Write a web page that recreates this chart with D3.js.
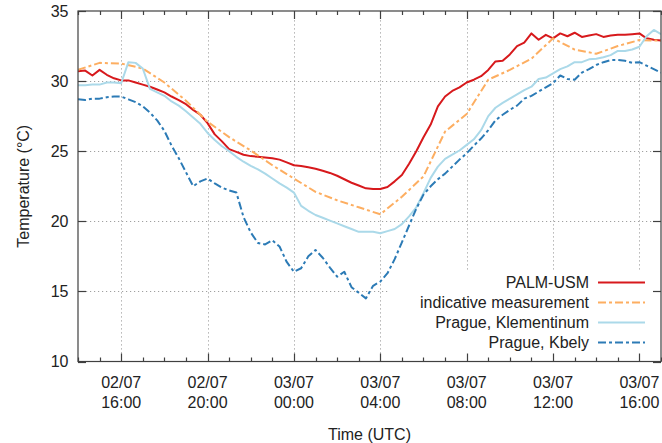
<!DOCTYPE html>
<html>
<head>
<meta charset="utf-8">
<script src="https://cdn.jsdelivr.net/npm/d3@7"></script>
<style>
  html, body { margin: 0; padding: 0; background: #fff; }
  svg { display: block; font-family: "Liberation Sans", Arial, sans-serif; }
</style>
</head>
<body>
<svg id="chart" width="662" height="443"></svg>
<script>
// ---------- data ----------
// Series start at 02/07 14:00 UTC.
const startTime = "2015-07-02T14:00:00Z";
const endTime = "2015-07-03T17:00:00Z";
const stepMinutes = 20;          // sampling step of the three dense series
const indicativeStepMinutes = 60; // sampling step of the indicative measurement

const palmUsm = [
  30.7, 30.75, 30.4, 30.8, 30.45, 30.2, 30.05, 30.05, 29.9, 29.75,
  29.6, 29.4, 29.2, 28.9, 28.65, 28.35, 27.95, 27.6, 27.0, 26.2,
  25.7, 25.15, 24.95, 24.75, 24.65, 24.6, 24.55, 24.5, 24.4, 24.2,
  24.0, 23.95, 23.85, 23.75, 23.6, 23.45, 23.25, 23.0, 22.75, 22.55,
  22.35, 22.3, 22.3, 22.45, 22.85, 23.3, 24.1, 25.0, 26.0, 26.9,
  28.2, 28.9, 29.3, 29.55, 29.9, 30.1, 30.35, 30.8, 31.4, 31.45,
  31.9, 32.5, 32.75, 33.4, 32.95, 33.3, 33.05, 33.4, 33.2, 33.45,
  33.15, 33.25, 33.35, 33.15, 33.25, 33.3, 33.3, 33.35, 33.4, 33.05,
  32.95, 32.9
];

const indicative = [
  30.8, 31.3, 31.25, 30.9, 29.9, 28.6, 27.1, 26.0, 25.05, 24.0,
  23.05, 22.1, 21.5, 21.0, 20.5, 21.75, 23.2, 26.4, 27.65, 30.1,
  30.8, 31.6, 33.05, 32.25, 31.95, 32.5, 32.93, 32.88
];

const klementinum = [
  29.7, 29.7, 29.75, 29.75, 29.9, 29.9, 29.85, 31.35, 31.3, 30.9,
  29.45, 29.2, 28.95, 28.55, 28.25, 27.85, 27.4, 26.95, 26.3, 25.8,
  25.35, 25.0, 24.6, 24.25, 23.95, 23.7, 23.4, 23.05, 22.7, 22.4,
  22.05, 21.1, 20.75, 20.45, 20.25, 20.05, 19.85, 19.65, 19.45, 19.25,
  19.25, 19.25, 19.15, 19.3, 19.45, 19.8, 20.35, 21.0, 22.0, 23.1,
  23.9, 24.45, 24.75, 25.05, 25.45, 25.85, 26.5, 27.5, 28.1, 28.45,
  28.75, 29.05, 29.35, 29.6, 30.15, 30.25, 30.55, 30.85, 31.05, 31.35,
  31.35, 31.55, 31.6, 31.7, 31.85, 32.15, 32.15, 32.25, 32.45, 33.2,
  33.65, 33.35
];

const kbely = [
  28.7, 28.65, 28.75, 28.75, 28.85, 28.9, 28.9, 28.7, 28.5, 28.2,
  27.75, 27.2, 26.45, 25.4, 24.5, 23.5, 22.5, 22.85, 23.05, 22.7,
  22.4, 22.2, 22.05, 20.3, 19.2, 18.45, 18.35, 18.65, 18.2, 17.1,
  16.4, 16.65, 17.5, 17.95, 17.4, 16.7, 16.05, 16.4, 15.3, 14.9,
  14.5, 15.4, 15.7, 16.3, 17.3, 18.5, 19.7, 20.9, 21.9, 22.5,
  23.0, 23.4, 23.9, 24.4, 24.85, 25.4, 25.9, 26.5, 27.2, 27.6,
  27.95, 28.25, 28.75, 28.95, 29.25, 29.55, 29.85, 30.4, 30.15, 30.1,
  30.6, 30.85, 31.15, 31.35, 31.5, 31.5, 31.45, 31.3, 31.35, 31.1,
  30.85, 30.6
];

const seriesNames = ["PALM-USM", "indicative measurement", "Prague, Klementinum", "Prague, Kbely"];
const yTicks = [10, 15, 20, 25, 30, 35];
const yDomain = [10, 35];
const xTitle = "Time (UTC)";
const yTitle = "Temperature (°C)";

// ---------- layout ----------
const svg = d3.select("#chart");
const L = 78, R = 661, T = 11, B = 361.5;
const t0 = new Date(startTime), t1 = new Date(endTime);

const x = d3.scaleUtc().domain([t0, t1]).range([L, R]);
const y = d3.scaleLinear().domain(yDomain).range([B, T]);

function toPoints(values, step) {
  return values.map((v, i) => ({ t: d3.utcMinute.offset(t0, i * step), v }));
}

const series = [
  { name: seriesNames[0], data: toPoints(palmUsm, stepMinutes), color: "#d7191c", dash: null, width: 2 },
  { name: seriesNames[1], data: toPoints(indicative, indicativeStepMinutes), color: "#fdae61", dash: "8,3,3,3", width: 2 },
  { name: seriesNames[2], data: toPoints(klementinum, stepMinutes), color: "#abd9e9", dash: null, width: 2 },
  { name: seriesNames[3], data: toPoints(kbely, stepMinutes), color: "#2c7bb6", dash: "8,3,3,3", width: 2 }
];

const majorTicks = d3.utcHour.every(4).range(t0, d3.utcMinute.offset(t1, 1));
const minorTicks = d3.utcHour.every(1).range(t0, d3.utcMinute.offset(t1, 1));

// ---------- grid ----------
const grid = svg.append("g").attr("stroke", "#a0a0a0").attr("stroke-width", 1)
  .attr("stroke-dasharray", "1.2,2.8");
grid.selectAll("line.gx").data(majorTicks).join("line")
  .attr("x1", d => Math.round(x(d)) + 0.5).attr("x2", d => Math.round(x(d)) + 0.5)
  .attr("y1", B).attr("y2", T);
grid.selectAll("line.gy").data(yTicks.filter(v => v > yDomain[0] && v < yDomain[1])).join("line")
  .attr("y1", d => Math.round(y(d)) + 0.5).attr("y2", d => Math.round(y(d)) + 0.5)
  .attr("x1", L).attr("x2", R);

// ---------- lines ----------
svg.append("clipPath").attr("id", "clip").append("rect")
  .attr("x", L).attr("y", T).attr("width", R - L).attr("height", B - T);

const line = d3.line().x(d => x(d.t)).y(d => y(d.v));
const plot = svg.append("g").attr("clip-path", "url(#clip)");
series.forEach(s => {
  plot.append("path").datum(s.data)
    .attr("fill", "none")
    .attr("stroke", s.color)
    .attr("stroke-width", s.width)
    .attr("stroke-linejoin", "round")
    .attr("stroke-dasharray", s.dash)
    .attr("d", line);
});

// ---------- legend ----------
const legend = svg.append("g");
legend.append("rect").attr("x", 390).attr("y", 271).attr("width", R - 390).attr("height", 83)
  .attr("fill", "#fff");
series.forEach((s, i) => {
  const cy = 282.5 + i * 20;
  legend.append("text").attr("x", 589).attr("y", cy).attr("dy", "0.35em")
    .attr("text-anchor", "end").attr("font-size", 16).attr("fill", "#222").text(s.name);
  legend.append("line").attr("x1", 598).attr("x2", 645).attr("y1", cy).attr("y2", cy)
    .attr("stroke", s.color).attr("stroke-width", s.width).attr("stroke-dasharray", s.dash);
});

// ---------- axes / frame ----------
const axisColor = "#404040";
const frame = svg.append("g");
frame.append("rect").attr("x", L).attr("y", T).attr("width", R - L).attr("height", B - T)
  .attr("fill", "none").attr("stroke", axisColor).attr("stroke-width", 1.2);

// bottom axis
const bottom = svg.append("g").attr("transform", `translate(0,${B})`)
  .call(d3.axisBottom(x).tickValues(majorTicks).tickSize(0).tickFormat(""));
bottom.select(".domain").remove();
// x ticks (inward) on bottom and top
const xt = svg.append("g").attr("stroke", axisColor).attr("stroke-width", 1.2);
minorTicks.forEach(d => {
  const major = majorTicks.some(m => +m === +d);
  const len = major ? 8 : 4;
  const px = Math.round(x(d)) + 0.5;
  xt.append("line").attr("x1", px).attr("x2", px).attr("y1", B).attr("y2", B - len);
  xt.append("line").attr("x1", px).attr("x2", px).attr("y1", T).attr("y2", T + len);
});
// y ticks (inward) on left and right
yTicks.forEach(v => {
  const py = Math.round(y(v)) + 0.5;
  xt.append("line").attr("x1", L).attr("x2", L + 8).attr("y1", py).attr("y2", py);
  xt.append("line").attr("x1", R).attr("x2", R - 8).attr("y1", py).attr("y2", py);
});

// x tick labels (two lines)
const fmtDate = d3.utcFormat("%d/%m"), fmtTime = d3.utcFormat("%H:%M");
const xl = svg.append("g").attr("font-size", 16).attr("fill", "#222").attr("text-anchor", "middle");
majorTicks.filter(d => d > t0 && d <= t1).forEach(d => {
  const t = xl.append("text").attr("x", x(d)).attr("y", 387.5);
  t.append("tspan").attr("x", x(d)).text(fmtDate(d));
  t.append("tspan").attr("x", x(d)).attr("dy", 20).text(fmtTime(d));
});

// y tick labels
const yl = svg.append("g").attr("font-size", 16).attr("fill", "#222").attr("text-anchor", "end");
yTicks.forEach(v => {
  yl.append("text").attr("x", 68.5).attr("y", y(v)).attr("dy", "0.35em").text(v);
});

// titles
svg.append("text").attr("x", (L + R) / 2).attr("y", 439.5).attr("text-anchor", "middle")
  .attr("font-size", 16).attr("fill", "#222").text(xTitle);
svg.append("text").attr("transform", `translate(28.5,${(T + B) / 2}) rotate(-90)`)
  .attr("text-anchor", "middle").attr("font-size", 16).attr("fill", "#222").text(yTitle);
</script>
</body>
</html>
